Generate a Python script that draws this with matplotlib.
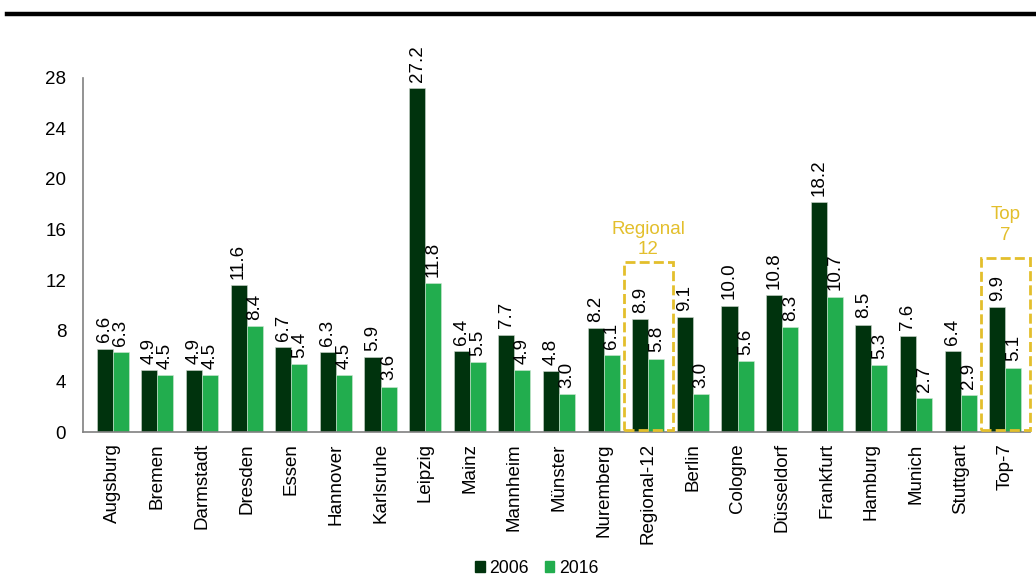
import numpy as np
import matplotlib
matplotlib.use('Agg')
import matplotlib.pyplot as plt
from matplotlib.patches import Rectangle
from matplotlib.lines import Line2D

plt.rcParams['font.family'] = ['Liberation Sans', 'DejaVu Sans']

cities = ['Augsburg', 'Bremen', 'Darmstadt', 'Dresden', 'Essen', 'Hannover',
          'Karlsruhe', 'Leipzig', 'Mainz', 'Mannheim', 'Münster', 'Nuremberg',
          'Regional-12', 'Berlin', 'Cologne', 'Düsseldorf', 'Frankfurt',
          'Hamburg', 'Munich', 'Stuttgart', 'Top-7']
vals_2006 = [6.6, 4.9, 4.9, 11.6, 6.7, 6.3, 5.9, 27.2, 6.4, 7.7, 4.8, 8.2,
             8.9, 9.1, 10.0, 10.8, 18.2, 8.5, 7.6, 6.4, 9.9]
vals_2016 = [6.3, 4.5, 4.5, 8.4, 5.4, 4.5, 3.6, 11.8, 5.5, 4.9, 3.0, 6.1,
             5.8, 3.0, 5.6, 8.3, 10.7, 5.3, 2.7, 2.9, 5.1]
yticks = [0, 4, 8, 12, 16, 20, 24, 28]

dark = '#00330d'
light = '#22ad4e'
gold = '#e3bf2c'
fs = 13.5

fig = plt.figure(figsize=(10.36, 5.8), dpi=100)
ax = fig.add_axes([0.080, 0.255, 0.914, 0.611])

x = np.arange(len(cities))
w = 0.36
b1 = ax.bar(x - w / 2, vals_2006, w, color=dark, edgecolor='#cfd8cf', linewidth=0.4, label='2006')
b2 = ax.bar(x + w / 2, vals_2016, w, color=light, edgecolor='#cfe8d4', linewidth=0.4, label='2016')

for bars, vals in ((b1, vals_2006), (b2, vals_2016)):
    for rect, v in zip(bars, vals):
        ax.annotate(f'{v:.1f}', (rect.get_x() + rect.get_width() / 2, v),
                    xytext=(0, 4.5), textcoords='offset points',
                    rotation=90, ha='center', va='bottom', fontsize=fs)

ax.set_xlim(-0.67, 20.55)
ax.set_ylim(0, 28)
ax.set_yticks(yticks)
ax.set_yticklabels([str(t) for t in yticks], fontsize=fs)
ax.set_xticks(x)
ax.set_xticklabels(cities, rotation=90, fontsize=fs)
ax.tick_params(axis='x', length=0, pad=8)
ax.tick_params(axis='y', length=0, pad=12)
for s in ('top', 'right'):
    ax.spines[s].set_visible(False)
for s in ('left', 'bottom'):
    ax.spines[s].set_color('#808080')
    ax.spines[s].set_linewidth(1.2)

# dashed boxes around the aggregates
for idx, top, ttl_y, title in ((12, 13.45, 13.75, 'Regional\n12'), (20, 13.75, 14.9, 'Top\n7')):
    ax.add_patch(Rectangle((idx - 0.55, 0.15), 1.1, top - 0.15, fill=False,
                           edgecolor=gold, linestyle=(0, (3.6, 1.5)),
                           linewidth=2.0, clip_on=False, zorder=3))
    ax.text(idx, ttl_y, title, color=gold, ha='center', va='bottom',
            fontsize=fs, linespacing=1.25)

handles = [Rectangle((0, 0), 1, 1, color=dark), Rectangle((0, 0), 1, 1, color=light)]
fig.legend(handles, ['2006', '2016'], loc='lower center', ncol=2,
           bbox_to_anchor=(0.518, -0.022), frameon=False, fontsize=12.7,
           handlelength=0.55, handleheight=0.55, handletextpad=0.25, columnspacing=0.9)

# heavy rule along the top
fig.add_artist(Line2D([0.007, 1.0], [0.976, 0.976], color='black', linewidth=3.2,
                      transform=fig.transFigure))

fig.savefig('out.png', dpi=100)
